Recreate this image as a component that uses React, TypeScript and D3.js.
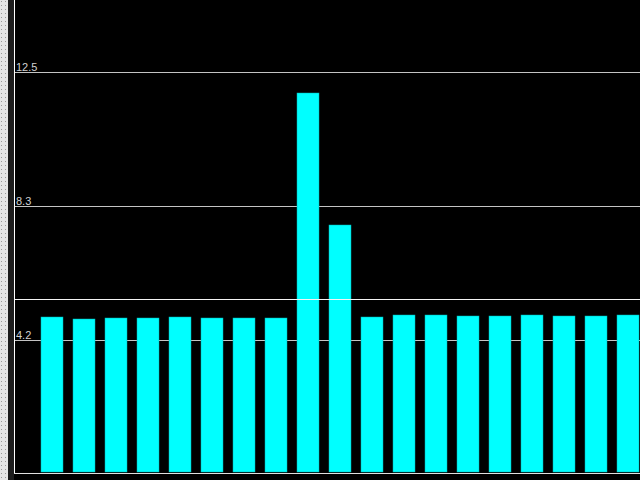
import { useEffect, useRef } from "react";
import * as d3 from "d3";

// values (no category labels are shown)
const categories = d3.range(1, 20).map(String);
const values = [4.88, 4.82, 4.85, 4.85, 4.88, 4.84, 4.85, 4.85, 11.85, 7.74, 4.88, 4.94, 4.94, 4.91, 4.91, 4.94, 4.91, 4.91, 4.94];
const tickValues = [4.1667, 8.3333, 12.5];
const meanValue = 5.44;

export default function App() {
  const ref = useRef<SVGSVGElement | null>(null);

  useEffect(() => {
    if (!ref.current) return;
    const svg = d3.select(ref.current);
    svg.selectAll("*").remove();

    const width = 640, height = 480;
    const axisX = 14, baseY = 472;

    const x = d3.scaleBand<string>()
      .domain(categories)
      .range([36, 36 + 19 * 32])
      .paddingInner(10 / 32)
      .paddingOuter(5 / 32);
    const y = d3.scaleLinear().domain([0, 12.5]).range([474, 72]);

    svg.append("rect").attr("width", width).attr("height", height).attr("fill", "#000");

    // dotted side strip
    const defs = svg.append("defs");
    const pat = defs.append("pattern").attr("id", "dots").attr("width", 4).attr("height", 4)
      .attr("patternUnits", "userSpaceOnUse");
    pat.append("rect").attr("width", 4).attr("height", 4).attr("fill", "#e6e6e6");
    pat.append("rect").attr("x", 1).attr("y", 1).attr("width", 1).attr("height", 1).attr("fill", "#9a9a9a");
    svg.append("rect").attr("width", 8).attr("height", height).attr("fill", "url(#dots)");
    svg.append("rect").attr("x", 8).attr("width", 6).attr("height", height).attr("fill", "#1c1c1c");

    // gridlines
    svg.append("g").selectAll("line").data(tickValues).join("line")
      .attr("x1", axisX).attr("x2", width)
      .attr("y1", d => Math.round(y(d)) + 0.5).attr("y2", d => Math.round(y(d)) + 0.5)
      .attr("stroke", "#c4c4c4");
    svg.append("g").selectAll("text").data(tickValues).join("text")
      .attr("x", 16).attr("y", d => Math.round(y(d)) - 1)
      .attr("fill", "#d0d0d0")
      .attr("font-family", "Liberation Sans, Arial, sans-serif")
      .attr("font-size", 11)
      .text(d => d3.format(".1f")(d));

    // bars
    svg.append("g").selectAll("rect").data(values).join("rect")
      .attr("x", (_, i) => x(categories[i])!)
      .attr("y", d => Math.round(y(d)))
      .attr("width", x.bandwidth())
      .attr("height", d => baseY - Math.round(y(d)))
      .attr("fill", "#00ffff")
      .attr("stroke", "#00b4b4").attr("stroke-width", 0.5);

    // mean line
    svg.append("line")
      .attr("x1", axisX).attr("x2", width)
      .attr("y1", Math.round(y(meanValue)) + 0.5).attr("y2", Math.round(y(meanValue)) + 0.5)
      .attr("stroke", "#f4f4f4");

    // axes
    svg.append("line").attr("x1", axisX + 0.5).attr("x2", axisX + 0.5).attr("y1", 0).attr("y2", baseY + 1)
      .attr("stroke", "#fff");
    svg.append("line").attr("x1", axisX).attr("x2", width).attr("y1", baseY + 1.5).attr("y2", baseY + 1.5)
      .attr("stroke", "#e0e0e0");
  }, []);

  return (
    <svg ref={ref} width={640} height={480}
      style={{ position: "fixed", left: 0, top: 0, display: "block" }}
      role="img" aria-label="bar chart" />
  );
}
